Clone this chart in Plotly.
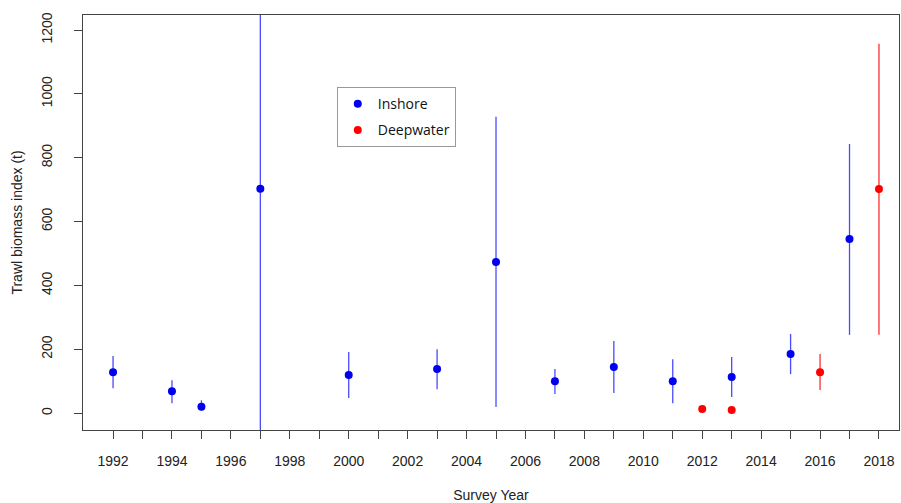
import plotly.graph_objects as go

# Inshore series
ins_year = [1992, 1994, 1995, 1997, 2000, 2003, 2005, 2007, 2009, 2011, 2013, 2015, 2017]
ins_val = [128, 68, 20, 703, 119, 138, 473, 100, 144, 100, 113, 185, 545]
ins_lo = [78, 31, 8, -100, 47, 75, 19, 60, 63, 31, 50, 122, 245]
ins_hi = [179, 103, 40, 1500, 191, 200, 928, 138, 226, 169, 176, 248, 843]

# Deepwater series
dw_year = [2012, 2013, 2016, 2018]
dw_val = [13, 10, 128, 702]
dw_lo = [13, 10, 72, 245]
dw_hi = [13, 10, 185, 1157]

years_all = list(range(1992, 2019))
xtick_text = [str(y) if y % 2 == 0 else "" for y in years_all]
ytick_vals = [0, 200, 400, 600, 800, 1000, 1200]

fig = go.Figure()

def add_series(name, x, v, lo, hi, mcol, lcol):
    fig.add_trace(go.Scatter(
        x=x, y=v, mode="markers", name=name, legendgroup=name,
        marker=dict(color=mcol, size=8),
        error_y=dict(type="data", symmetric=False,
                     array=[h - m for h, m in zip(hi, v)],
                     arrayminus=[m - l for m, l in zip(v, lo)],
                     color=lcol, thickness=1.3, width=0),
    ))

add_series("Inshore", ins_year, ins_val, ins_lo, ins_hi, "#0000ee", "#4a4aff")
add_series("Deepwater", dw_year, dw_val, dw_lo, dw_hi, "#ff0000", "#ff3030")

fig.update_layout(
    width=901, height=503,
    margin=dict(l=83, r=2, t=15, b=73),
    paper_bgcolor="white", plot_bgcolor="white",
    font=dict(family="Liberation Sans, Arial, sans-serif", color="#222222"),
    showlegend=True,
    legend=dict(x=0.311, y=0.826, xanchor="left", yanchor="top",
                bgcolor="white", bordercolor="#999999", borderwidth=1,
                font=dict(family="Open Sans, sans-serif", size=14, color="#111111"),
                itemsizing="trace", tracegroupgap=5),
)
fig.update_xaxes(
    range=[1990.98, 2018.68], tickmode="array", tickvals=years_all, ticktext=xtick_text,
    ticks="outside", ticklen=8, tickcolor="#444444", tickfont=dict(size=14),
    ticklabelstandoff=10, automargin=False,
    showgrid=False, zeroline=False, showline=True, linecolor="#444444", linewidth=1, mirror=True,
    title=dict(text="Survey Year", font=dict(size=14), standoff=22),
)
fig.update_yaxes(
    range=[-53, 1247], tickmode="array", tickvals=ytick_vals, tickangle=-90,
    ticks="outside", ticklen=8, tickcolor="#444444", tickfont=dict(size=14),
    ticklabelstandoff=16, automargin=False,
    showgrid=False, zeroline=False, showline=True, linecolor="#444444", linewidth=1, mirror=True,
    title=dict(text="Trawl biomass index (t)", font=dict(size=14), standoff=13),
)

fig.write_html("out.html", config={"displayModeBar": False},
               post_script="document.body.style.margin='0px';")
